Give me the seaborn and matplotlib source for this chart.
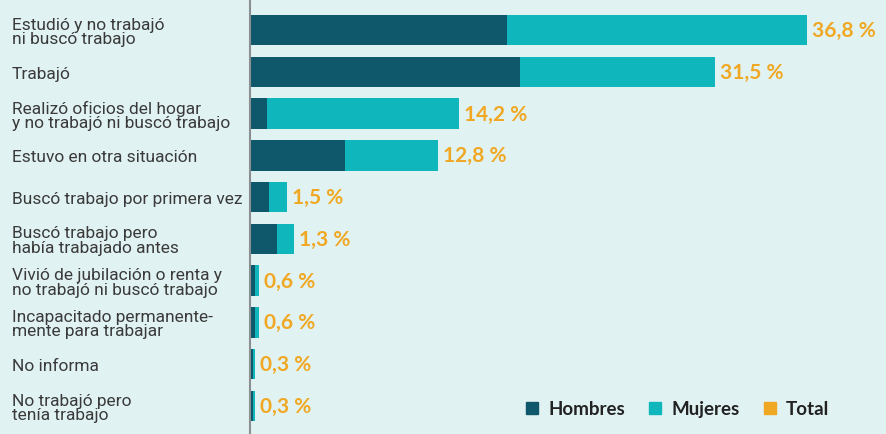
import pandas as pd
import matplotlib.pyplot as plt
import seaborn as sns
from matplotlib.patches import Patch

# Situación de la población
categorias = [
    "Estudió y no trabajó\nni buscó trabajo",
    "Trabajó",
    "Realizó oficios del hogar\ny no trabajó ni buscó trabajo",
    "Estuvo en otra situación",
    "Buscó trabajo por primera vez",
    "Buscó trabajo pero\nhabía trabajado antes",
    "Vivió de jubilación o renta y\nno trabajó ni buscó trabajo",
    "Incapacitado permanente-\nmente para trabajar",
    "No informa",
    "No trabajó pero\ntenía trabajo",
]
hombres = [17.0, 17.8, 1.1, 6.3, 1.25, 1.8, 0.33, 0.33, 0.2, 0.2]
mujeres = [19.8, 12.9, 12.7, 6.1, 1.2, 1.1, 0.27, 0.27, 0.13, 0.13]
total_labels = ["36,8 %", "31,5 %", "14,2 %", "12,8 %", "1,5 %",
                "1,3 %", "0,6 %", "0,6 %", "0,3 %", "0,3 %"]

C_HOM = "#0F586C"
C_MUJ = "#0FB6BB"
C_TOT = "#F0A824"
BG = "#E1F2F2"

df = pd.DataFrame({"cat": categorias, "hombres": hombres, "mujeres": mujeres})
df["suma"] = df["hombres"] + df["mujeres"]

sns.set_style("white")
plt.rcParams["font.family"] = ["Roboto", "DejaVu Sans"]

fig = plt.figure(figsize=(8.86, 4.35), dpi=100, facecolor=BG)
ax = fig.add_axes([250 / 886, 0, 636 / 886, 1])
ax.set_facecolor(BG)

sns.barplot(data=df, x="suma", y="cat", color=C_MUJ, width=0.73,
            orient="h", ax=ax, saturation=1, linewidth=0)
sns.barplot(data=df, x="hombres", y="cat", color=C_HOM, width=0.73,
            orient="h", ax=ax, saturation=1, linewidth=0)

ax.set_xlim(0, 42.0)
ax.set_ylim(9.67, -0.742)
ax.set_xticks([])
ax.set_yticks([])
ax.set_xlabel("")
ax.set_ylabel("")
for s in ["top", "right", "bottom"]:
    ax.spines[s].set_visible(False)
ax.spines["left"].set_color("#8A8F91")
ax.spines["left"].set_linewidth(1.5)

for i, (cat, tot, lab) in enumerate(zip(categorias, df["suma"], total_labels)):
    ax.text(-238 / 636, i + 0.03, cat, transform=ax.get_yaxis_transform(),
            ha="left", va="center", fontsize=12.5, color="#3A3A3A",
            linespacing=0.95, clip_on=False)
    ax.annotate(lab, (tot, i), xytext=(3.5, 0), textcoords="offset points",
                ha="left", va="center", fontsize=15, fontweight="bold",
                color=C_TOT, family=["Lato", "DejaVu Sans"])

handles = [Patch(color=C_HOM, label="Hombres"),
           Patch(color=C_MUJ, label="Mujeres"),
           Patch(color=C_TOT, label="Total")]
leg = fig.legend(handles=handles, ncol=3, loc="center right",
                 bbox_to_anchor=(846 / 886, 1 - 410 / 435), frameon=False,
                 handlelength=0.62, handleheight=0.62, handletextpad=0.55,
                 columnspacing=1.3,
                 prop={"size": 13.5, "weight": "bold", "family": ["Lato", "DejaVu Sans"]})
for t in leg.get_texts():
    t.set_color("#222222")

fig.savefig("out.png", dpi=100, facecolor=BG)
